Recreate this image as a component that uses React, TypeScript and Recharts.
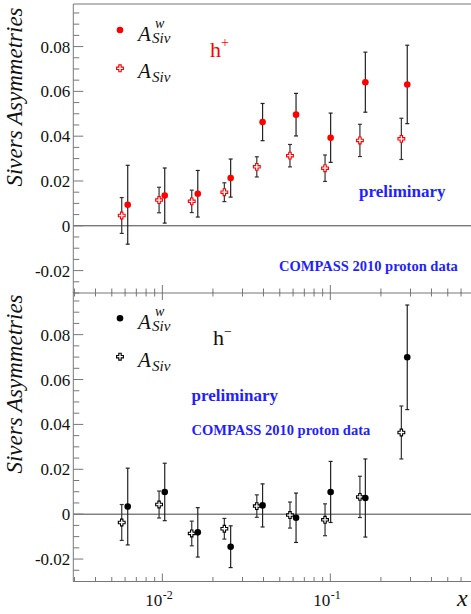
import React from 'react';
import { ComposedChart, Scatter, XAxis, YAxis, ErrorBar, ReferenceLine } from 'recharts';

// x bin centres (A_Siv points and the slightly shifted weighted A^w_Siv points)
const binX = [0.00573, 0.00956, 0.01496, 0.02339, 0.0365, 0.0575, 0.093, 0.15, 0.2647];
const binXw = [0.00622, 0.01033, 0.01625, 0.0255, 0.0395, 0.0625, 0.1004, 0.1616, 0.287];

// h+
const hpAsiv = [0.0046, 0.0115, 0.0109, 0.015, 0.0263, 0.0313, 0.0257, 0.0381, 0.0388];
const hpAsivErr = [0.008, 0.0057, 0.005, 0.0042, 0.0045, 0.005, 0.0059, 0.0072, 0.0092];
const hpAsivW = [0.0094, 0.0135, 0.0143, 0.0213, 0.0463, 0.0496, 0.0393, 0.0641, 0.0631];
const hpAsivWErr = [0.0176, 0.0123, 0.0104, 0.0085, 0.0083, 0.0095, 0.011, 0.0134, 0.0175];

// h-
const hmAsiv = [-0.0037, 0.0043, -0.0086, -0.0065, 0.0036, -0.0004, -0.0025, 0.0077, 0.0364];
const hmAsivErr = [0.008, 0.006, 0.0055, 0.0046, 0.005, 0.0058, 0.0071, 0.0092, 0.0118];
const hmAsivW = [0.0034, 0.0099, -0.0081, -0.0145, 0.0039, -0.0016, 0.0099, 0.0072, 0.0699];
const hmAsivWErr = [0.0171, 0.0128, 0.011, 0.0093, 0.0096, 0.011, 0.0136, 0.0174, 0.0233];

const xTicks = [
  0.003, 0.004, 0.005, 0.006, 0.007, 0.008, 0.009,
  0.01, 0.02, 0.03, 0.04, 0.05, 0.06, 0.07, 0.08, 0.09,
  0.1, 0.2, 0.3, 0.4, 0.5, 0.6,
];
const xMajor = [0.01, 0.1];
const xExponents = ['-2', '-1'];

const yTicks = [
  -0.03, -0.025, -0.02, -0.015, -0.01, -0.005, 0, 0.005, 0.01, 0.015, 0.02, 0.025, 0.03,
  0.035, 0.04, 0.045, 0.05, 0.055, 0.06, 0.065, 0.07, 0.075, 0.08, 0.085, 0.09, 0.095,
];
const yMajor = [-0.02, 0, 0.02, 0.04, 0.06, 0.08];
const yMajorLabels = ['-0.02', '0', '0.02', '0.04', '0.06', '0.08'];

const X_DOMAIN: [number, number] = [0.00295, 0.7];
const Y_DOMAIN: [number, number] = [-0.03, 0.099];

const SERIF = "'Liberation Serif', 'Times New Roman', 'DejaVu Serif', serif";
const FRAME = '#777';
const BLUE = '#1f1fff';
const serif = { fontFamily: SERIF };
const serifItalic = { fontFamily: SERIF, fontStyle: 'italic' as const };

const toPoints = (xs: number[], ys: number[], errs: number[]) =>
  xs.map((x, i) => ({ x, y: ys[i], err: errs[i] }));

const near = (list: number[], v: number) => list.findIndex(m => Math.abs(m - v) < 1e-9);

const Dot = ({ color }: { color: string }) => (props: any) => (
  <circle cx={props.cx} cy={props.cy} r={3.3} fill={color} />
);

const plusPath = (cx: number, cy: number) => {
  const a = 3.4;
  const b = 1.2;
  return `M${cx - b},${cy - a}H${cx + b}V${cy - b}H${cx + a}V${cy + b}H${cx + b}V${cy + a}H${cx - b}V${cy + b}H${cx - a}V${cy - b}H${cx - b}Z`;
};

const Plus = ({ color }: { color: string }) => (props: any) => (
  <path d={plusPath(props.cx, props.cy)} fill="#fff" stroke={color} strokeWidth={1.1} />
);

const YTick = (props: any) => {
  const { x, y, payload } = props;
  const idx = near(yMajor, payload.value);
  return (
    <g>
      <line x1={x} x2={x + (idx >= 0 ? 10 : 6)} y1={y} y2={y} stroke={FRAME} />
      {idx >= 0 && (
        <text x={x - 3} y={y + 6} textAnchor="end" style={serif} fontSize={17} fill="#111">
          {yMajorLabels[idx]}
        </text>
      )}
    </g>
  );
};

const makeXTick = (up: boolean, labels: boolean) => (props: any) => {
  const { x, y, payload } = props;
  const idx = near(xMajor, payload.value);
  const len = idx >= 0 ? 8 : 4.5;
  return (
    <g>
      <line x1={x} x2={x} y1={y} y2={up ? y - len : y + len} stroke={FRAME} />
      {labels && idx >= 0 && (
        <g style={serif} fill="#111">
          <text x={x} y={y + 24} textAnchor="end" fontSize={17}>10</text>
          <text x={x + 0.5} y={y + 17} fontSize={12}>{xExponents[idx]}</text>
        </g>
      )}
    </g>
  );
};

const Panel = ({
  top, height, margin, color, asiv, asivW, labels,
}: {
  top: number; height: number; margin: { top: number; right: number; bottom: number; left: number };
  color: string; asiv: any[]; asivW: any[]; labels: boolean;
}) => (
  <div style={{ position: 'absolute', left: 0, top }}>
    <ComposedChart width={480} height={height} margin={margin}>
      <XAxis
        xAxisId={0}
        dataKey="x"
        type="number"
        scale="log"
        domain={X_DOMAIN}
        allowDataOverflow
        ticks={xTicks}
        interval={0}
        height={1}
        tickSize={0}
        tickMargin={0}
        tickLine={false}
        axisLine={{ stroke: FRAME }}
        tick={makeXTick(true, labels)}
      />
      {labels && (
        <XAxis
          xAxisId="top"
          orientation="top"
          dataKey="x"
          type="number"
          scale="log"
          domain={X_DOMAIN}
          allowDataOverflow
          ticks={xTicks}
          interval={0}
          height={1}
          tickSize={0}
          tickMargin={0}
          tickLine={false}
          axisLine={false}
          tick={makeXTick(false, false)}
        />
      )}
      <YAxis
        dataKey="y"
        type="number"
        domain={Y_DOMAIN}
        allowDataOverflow
        ticks={yTicks}
        interval={0}
        width={1}
        tickSize={0}
        tickMargin={0}
        tickLine={false}
        axisLine={{ stroke: FRAME }}
        tick={<YTick />}
      />
      {!labels && <ReferenceLine xAxisId={0} y={Y_DOMAIN[1]} stroke={FRAME} />}
      <ReferenceLine xAxisId={0} y={0} stroke="#444" />
      <Scatter xAxisId={0} data={asiv} dataKey="y" shape={Plus({ color })} isAnimationActive={false}>
        <ErrorBar dataKey="err" direction="y" width={2} stroke="#333" strokeWidth={1.2} isAnimationActive={false} />
      </Scatter>
      <Scatter xAxisId={0} data={asivW} dataKey="y" shape={Dot({ color })} isAnimationActive={false}>
        <ErrorBar dataKey="err" direction="y" width={2} stroke="#222" strokeWidth={1.2} isAnimationActive={false} />
      </Scatter>
    </ComposedChart>
  </div>
);

const LegendRows = ({ dotY, crossY, color }: { dotY: number; crossY: number; color: string }) => (
  <g style={serifItalic} fill="#111">
    <circle cx={120} cy={dotY} r={3.3} fill={color} />
    <text x={138} y={dotY + 10.5} fontSize={21}>A</text>
    <text x={155} y={dotY - 2} fontSize={14}>w</text>
    <text x={152} y={dotY + 13} fontSize={15}>Siv</text>
    <path d={plusPath(120, crossY)} fill="#fff" stroke={color} strokeWidth={1.1} />
    <text x={138} y={crossY + 10} fontSize={21}>A</text>
    <text x={152} y={crossY + 14} fontSize={15}>Siv</text>
  </g>
);

const Annotations = () => (
  <svg width={471} height={614} style={{ position: 'absolute', left: 0, top: 0, pointerEvents: 'none' }}>
    <g style={serifItalic} fontSize={23} fill="#111" textAnchor="middle">
      <text transform="translate(22,97) rotate(-90)">Sivers Asymmetries</text>
      <text transform="translate(22,384) rotate(-90)">Sivers Asymmetries</text>
    </g>

    <LegendRows dotY={30} crossY={68.3} color="#ff0000" />
    <LegendRows dotY={318.3} crossY={356.7} color="#000" />

    <text x={210} y={56.7} style={serif} fontSize={22} fill="#ff0000">
      h<tspan fontSize={14} dy={-10}>+</tspan>
    </text>
    <text x={213} y={345} style={serif} fontSize={22} fill="#111">
      h<tspan fontSize={14} dy={-9}>−</tspan>
    </text>

    <g style={serif} fontWeight="bold" fill={BLUE}>
      <text x={359} y={196.5} fontSize={17}>preliminary</text>
      <text x={279} y={270.5} fontSize={14.5}>COMPASS 2010 proton data</text>
      <text x={191.5} y={401} fontSize={17}>preliminary</text>
      <text x={191.5} y={434.5} fontSize={14.5}>COMPASS 2010 proton data</text>
    </g>

    <text x={457} y={606} style={serifItalic} fontSize={24} fill="#111">x</text>
  </svg>
);

export default function App() {
  return (
    <div style={{ position: 'absolute', left: 0, top: 0, width: 471, height: 614, overflow: 'hidden', background: '#fff' }}>
      <Panel
        top={0}
        height={300}
        margin={{ top: 4, right: 7.7, bottom: 6, left: 72.3 }}
        color="#ff0000"
        asiv={toPoints(binX, hpAsiv, hpAsivErr)}
        asivW={toPoints(binXw, hpAsivW, hpAsivWErr)}
        labels={false}
      />
      <Panel
        top={286}
        height={328}
        margin={{ top: 5, right: 7.7, bottom: 31.5, left: 72.3 }}
        color="#000"
        asiv={toPoints(binX, hmAsiv, hmAsivErr)}
        asivW={toPoints(binXw, hmAsivW, hmAsivWErr)}
        labels={true}
      />
      <Annotations />
    </div>
  );
}
